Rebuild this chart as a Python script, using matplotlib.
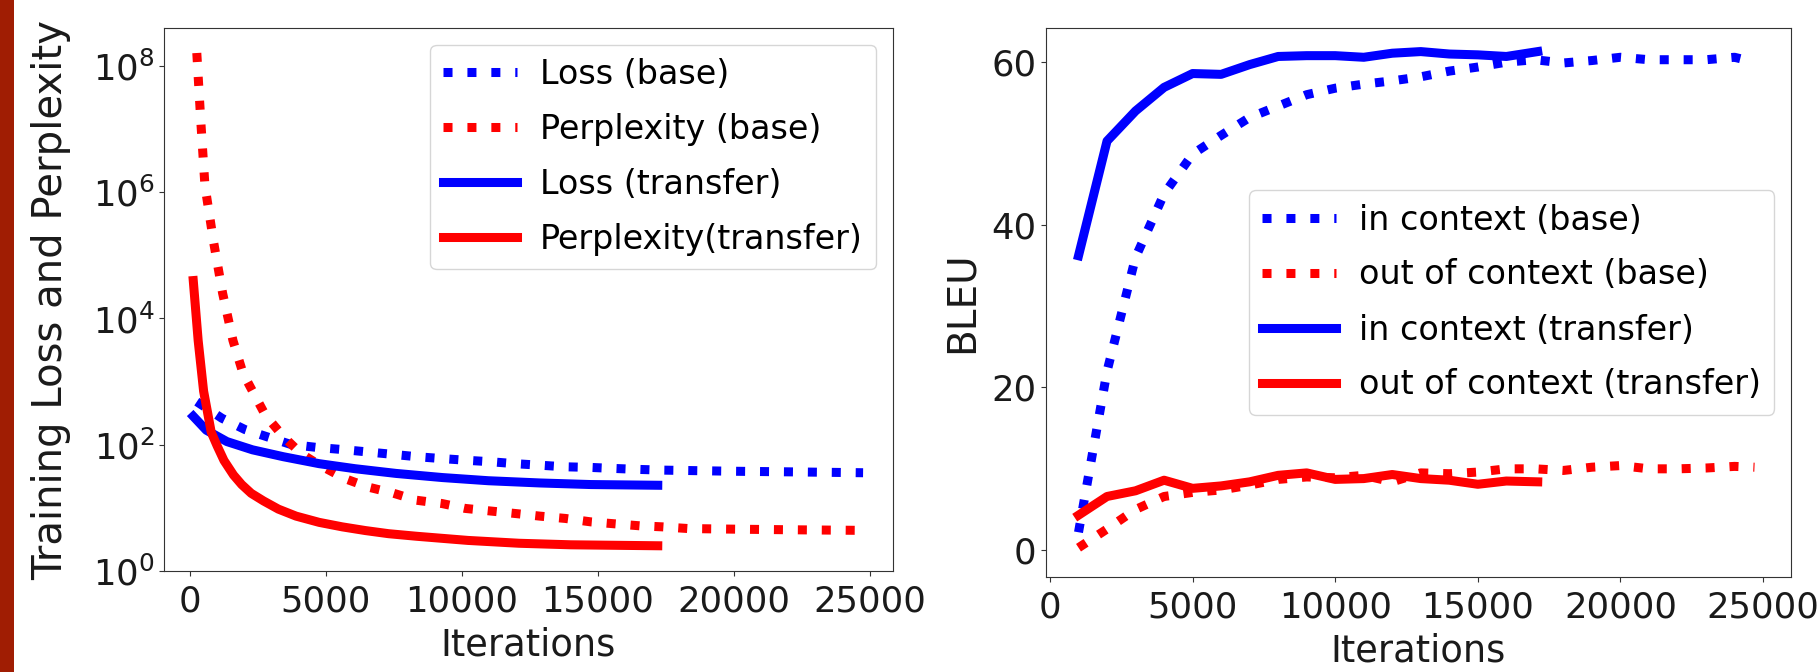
import matplotlib
matplotlib.use("Agg")
import matplotlib.pyplot as plt
from matplotlib.patches import Rectangle
from matplotlib.ticker import NullLocator

# ---------------- data: left panel (training loss / perplexity) ----------------
loss_base_x = [250, 1170, 2020, 2870, 3710, 4660, 5590, 6430, 7390, 8340, 9270,
               10110, 11070, 11950, 12860, 13800, 14740, 15590, 16530, 17380,
               20000, 22000, 24750]
loss_base_y = [480, 263, 174, 132, 101, 90.6, 84, 77.6, 70.8, 64.6, 60.3,
               56.9, 53.7, 50.1, 47.4, 44.7, 43.7, 42.1, 40.6, 39.6,
               38.0, 37.2, 36.0]

ppl_base_x = [250, 400, 550, 870, 1200, 1580, 1950, 2770, 3430, 4090, 4750, 5700,
              6540, 7490, 8330, 9270, 10120, 11070, 12010, 12860, 13800, 14740,
              15590, 16530, 17380, 18330, 20000, 22000, 24750]
ppl_base_y = [1.6e8, 1.26e7, 1.26e6, 1.6e5, 2.5e4, 4470, 1350, 295, 135, 72, 48, 29,
              21.4, 17.0, 13.2, 11.7, 9.8, 8.9, 8.1, 7.4, 6.8, 6.0,
              5.6, 5.2, 5.0, 4.7, 4.6, 4.5, 4.4]

loss_tr_x = [120, 600, 1360, 2300, 3430, 4750, 6070, 7580, 9280, 10970, 12860, 14740, 17200]
loss_tr_y = [282, 170, 112, 83, 64.6, 50.1, 41.7, 35.1, 30.2, 26.9, 24.8, 23.4, 22.8]

ppl_tr_x = [120, 300, 500, 780, 1000, 1250, 1600, 1900, 2250, 2700, 3250, 3900,
            4750, 5600, 6450, 7300, 8330, 10220, 12100, 14000, 17200]
ppl_tr_y = [39800, 4470, 708, 158, 95.5, 56.2, 33.1, 23.4, 17.0, 12.9, 9.55, 7.4,
            5.89, 5.0, 4.37, 3.9, 3.55, 3.05, 2.75, 2.60, 2.51]

# ---------------- data: right panel (BLEU) ----------------
bleu_base_x = [1000, 2000, 3000, 4000, 5000, 6000, 7000, 8000, 9000, 10000, 11000,
               12000, 13000, 14000, 15000, 16000, 17000, 18000, 19000, 20000,
               21000, 22000, 23000, 24000, 24700]
in_ctx_base = [2.2, 22.0, 36.0, 43.8, 48.7, 51.0, 53.2, 54.6, 56.0, 56.8, 57.3,
               57.7, 58.2, 58.9, 59.4, 60.0, 60.3, 59.9, 60.2, 60.6,
               60.3, 60.3, 60.3, 60.6, 60.0]
out_ctx_base = [0.3, 2.6, 5.0, 6.6, 7.1, 7.4, 8.0, 8.7, 9.0, 8.9, 9.2,
                8.4, 9.5, 9.4, 9.6, 10.0, 10.0, 9.8, 10.2, 10.4,
                10.0, 10.0, 10.1, 10.3, 10.2]

bleu_tr_x = [1000, 2000, 3000, 4000, 5000, 6000, 7000, 8000, 9000, 10000, 11000,
             12000, 13000, 14000, 15000, 16000, 17100]
in_ctx_tr = [36.2, 50.3, 54.0, 56.9, 58.6, 58.5, 59.7, 60.7, 60.8, 60.8, 60.6,
             61.1, 61.3, 61.0, 60.9, 60.7, 61.3]
out_ctx_tr = [4.3, 6.6, 7.3, 8.6, 7.6, 7.9, 8.4, 9.2, 9.5, 8.7, 8.8,
              9.3, 8.8, 8.6, 8.1, 8.5, 8.4]

x_ticks = [0, 5000, 10000, 15000, 20000, 25000]

left_labels = ["Loss (base)", "Perplexity (base)", "Loss (transfer)", "Perplexity(transfer)"]
right_labels = ["in context (base)", "out of context (base)",
                "in context (transfer)", "out of context (transfer)"]

# ---------------- figure ----------------
plt.rcParams["font.family"] = ["DejaVu Sans"]
W, H = 1820, 672
fig = plt.figure(figsize=(W / 100, H / 100), dpi=100)
fig.patches.append(Rectangle((0, 0), 14 / W, 1, transform=fig.transFigure,
                             facecolor="#A01D03", edgecolor="none", zorder=0))

ax1 = fig.add_axes([164 / W, 1 - 571 / H, 729 / W, 543 / H])
ax2 = fig.add_axes([1046 / W, 1 - 577 / H, 745 / W, 549 / H])

LW = 6.5
BLUE, RED = "#0000ff", "#ff0000"
SPINE = "#333333"

for ax in (ax1, ax2):
    for s in ax.spines.values():
        s.set_color(SPINE)
    ax.tick_params(labelsize=25.5, color=SPINE, colors="#1a1a1a")
    ax.tick_params(axis="x", pad=6)

ax1.plot(loss_base_x, loss_base_y, ls=":", color=BLUE, lw=LW, label=left_labels[0])
ax1.plot(ppl_base_x, ppl_base_y, ls=":", color=RED, lw=LW, label=left_labels[1])
ax1.plot(loss_tr_x, loss_tr_y, ls="-", color=BLUE, lw=LW, label=left_labels[2])
ax1.plot(ppl_tr_x, ppl_tr_y, ls="-", color=RED, lw=LW, label=left_labels[3])
ax1.set_yscale("log")
ax1.set_ylim(1, 10 ** 8.6)
ax1.set_xlim(-956, 25850)
ax1.set_yticks([1, 1e2, 1e4, 1e6, 1e8])
ax1.yaxis.set_minor_locator(NullLocator())
ax1.set_xticks(x_ticks)
ax1.set_xlabel("Iterations", fontsize=26.5, labelpad=6, color="#1a1a1a")
ax1.set_ylabel("Training Loss and Perplexity", fontsize=29, color="#1a1a1a")
ax1.yaxis.set_label_coords(-0.128, 0.5)
ax1.legend(loc="upper right", fontsize=24, handlelength=2.2, handletextpad=0.7,
           labelspacing=0.66)

ax2.plot(bleu_base_x, in_ctx_base, ls=":", color=BLUE, lw=LW, label=right_labels[0])
ax2.plot(bleu_base_x, out_ctx_base, ls=":", color=RED, lw=LW, label=right_labels[1])
ax2.plot(bleu_tr_x, in_ctx_tr, ls="-", color=BLUE, lw=LW, label=right_labels[2])
ax2.plot(bleu_tr_x, out_ctx_tr, ls="-", color=RED, lw=LW, label=right_labels[3])
ax2.set_ylim(-3.3, 64.2)
ax2.set_xlim(-140, 25980)
ax2.set_yticks([0, 20, 40, 60])
ax2.set_xticks(x_ticks)
ax2.set_xlabel("Iterations", fontsize=26.5, labelpad=6, color="#1a1a1a")
ax2.set_ylabel("BLEU", fontsize=28, color="#1a1a1a")
ax2.yaxis.set_label_coords(-0.088, 0.5)
ax2.legend(loc="center right", fontsize=24, handlelength=2.2, handletextpad=0.7,
           labelspacing=0.66)

fig.savefig("out.png", dpi=100)
